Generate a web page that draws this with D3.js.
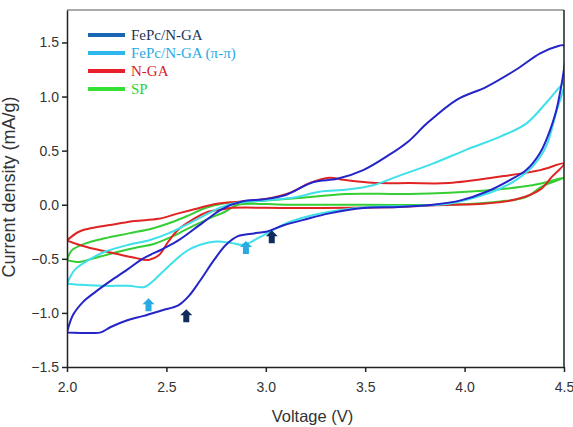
<!DOCTYPE html>
<html>
<head>
<meta charset="utf-8">
<script src="https://cdn.jsdelivr.net/npm/d3@7"></script>
<style>
	body{margin:0;background:#fff;}
	svg{display:block;}
	.tick text{font-family:"Liberation Sans",Arial,sans-serif;font-size:14px;fill:#333;}
</style>
</head>
<body>
<div id="chart"></div>
<script>
// FePc/N-GA loop: anodic sweep then cathodic sweep (V, mA/g)
let fepcUp = [[2.0,-1.18],[2.03,-1.02],[2.08,-0.90],[2.14,-0.81],[2.23,-0.69],[2.31,-0.59],[2.38,-0.50],[2.48,-0.41],[2.56,-0.33],[2.68,-0.17],[2.78,-0.04],[2.88,0.03],[2.99,0.05],[3.10,0.09],[3.24,0.21],[3.36,0.24],[3.49,0.32],[3.62,0.46],[3.72,0.59],[3.81,0.75],[3.96,0.97],[4.11,1.09],[4.26,1.25],[4.38,1.40],[4.46,1.46],[4.5,1.47]]
let fepcDown = [[4.5,1.40],[4.47,0.94],[4.43,0.69],[4.38,0.48],[4.31,0.32],[4.23,0.23],[4.11,0.12],[3.98,0.04],[3.84,0.0],[3.67,-0.02],[3.49,-0.03],[3.32,-0.08],[3.19,-0.14],[3.09,-0.19],[3.0,-0.25],[2.94,-0.265],[2.86,-0.29],[2.80,-0.37],[2.74,-0.51],[2.67,-0.70],[2.61,-0.85],[2.56,-0.93],[2.48,-0.975],[2.38,-1.03],[2.30,-1.07],[2.22,-1.13],[2.17,-1.18],[2.12,-1.185],[2.0,-1.18]]

// FePc/N-GA (pi-pi)
let pipiUp = [[2.0,-0.73],[2.04,-0.60],[2.11,-0.51],[2.19,-0.435],[2.31,-0.37],[2.41,-0.33],[2.51,-0.265],[2.595,-0.19],[2.68,-0.11],[2.78,-0.02],[2.86,0.02],[3.0,0.04],[3.15,0.07],[3.27,0.12],[3.41,0.14],[3.54,0.18],[3.66,0.26],[3.84,0.38],[4.01,0.51],[4.18,0.63],[4.31,0.75],[4.41,0.94],[4.5,1.12]]
let pipiDown = [[4.5,1.12],[4.46,0.85],[4.41,0.54],[4.34,0.35],[4.26,0.23],[4.18,0.15],[4.06,0.07],[3.92,0.01],[3.76,-0.01],[3.52,-0.02],[3.37,-0.05],[3.24,-0.095],[3.12,-0.16],[3.04,-0.23],[2.97,-0.30],[2.92,-0.35],[2.88,-0.37],[2.83,-0.355],[2.75,-0.34],[2.67,-0.37],[2.60,-0.43],[2.51,-0.57],[2.43,-0.71],[2.39,-0.76],[2.31,-0.75],[2.19,-0.75],[2.075,-0.74],[2.0,-0.73]]

// N-GA
let ngaUp = [[2.0,-0.33],[2.06,-0.25],[2.14,-0.21],[2.24,-0.18],[2.34,-0.15],[2.46,-0.13],[2.56,-0.08],[2.645,-0.04],[2.73,0.0],[2.81,0.02],[2.88,0.03],[2.99,0.05],[3.12,0.11],[3.22,0.20],[3.32,0.25],[3.39,0.23],[3.49,0.21],[3.57,0.20],[3.72,0.20],[3.92,0.20],[4.18,0.26],[4.38,0.32],[4.5,0.38]]
let ngaDown = [[4.5,0.37],[4.44,0.26],[4.38,0.14],[4.26,0.05],[4.09,0.01],[3.92,0.0],[3.67,-0.02],[3.15,-0.03],[2.82,-0.03],[2.795,-0.04],[2.71,-0.065],[2.63,-0.14],[2.56,-0.23],[2.51,-0.34],[2.46,-0.47],[2.41,-0.51],[2.34,-0.49],[2.24,-0.45],[2.14,-0.41],[2.06,-0.37],[2.0,-0.33]]

// SP
let spUp = [[2.0,-0.51],[2.025,-0.42],[2.09,-0.36],[2.19,-0.31],[2.31,-0.265],[2.43,-0.22],[2.53,-0.16],[2.61,-0.10],[2.695,-0.03],[2.78,0.01],[2.845,0.02],[3.0,0.04],[3.15,0.06],[3.41,0.10],[3.72,0.10],[4.09,0.13],[4.34,0.18],[4.5,0.25]]
let spDown = [[4.5,0.25],[4.39,0.17],[4.31,0.07],[4.18,0.03],[3.92,0.0],[3.5,0.0],[3.1,0.0],[2.86,0.0],[2.795,-0.065],[2.71,-0.13],[2.63,-0.20],[2.545,-0.28],[2.44,-0.36],[2.34,-0.40],[2.225,-0.45],[2.125,-0.50],[2.06,-0.53],[2.0,-0.51]]

let seriesNames = ["FePc/N-GA","FePc/N-GA (\u03c0-\u03c0)","N-GA","SP"]
let curveColours = ["#2424c8","#3ee0ea","#e02424","#35cf35"]
let legendLineColours = ["#1b66b2","#2fb8ee","#e8202a","#33e033"]
let legendTextColours = ["#1f3558","#2aaae2","#d8202a","#33d133"]
let loops = [fepcUp.concat(fepcDown.slice(1)), pipiUp.concat(pipiDown.slice(1)), ngaUp.concat(ngaDown.slice(1)), spUp.concat(spDown.slice(1))]

// peak markers: [V, mA/g, colour]
let arrows = [[2.41,-0.93,"#2aaae2"],[2.60,-1.03,"#0f2c5c"],[2.90,-0.40,"#2aaae2"],[3.03,-0.30,"#0f2c5c"]]

let xTicks = [2.0,2.5,3.0,3.5,4.0,4.5]
let yTicks = [-1.5,-1.0,-0.5,0.0,0.5,1.0,1.5]

let fullWidth = 573, fullHeight = 427
let margin = {top:10, right:9, bottom:60, left:67}
let width = fullWidth - margin.left - margin.right
let height = fullHeight - margin.top - margin.bottom

let svg = d3.select("#chart").append("svg")
	.attr("width",fullWidth)
	.attr("height",fullHeight)

let g = svg.append("g").attr("transform",`translate(${margin.left},${margin.top})`)

let x = d3.scaleLinear().domain([2.0,4.5]).range([0,width])
let y = d3.scaleLinear().domain([-1.5,1.8]).range([height,0])

let line = d3.line().x(d=>x(d[0])).y(d=>y(d[1])).curve(d3.curveCatmullRom.alpha(0.5))

g.append("defs").append("clipPath").attr("id","clip")
	.append("rect").attr("width",width).attr("height",height)

// draw order: SP, N-GA, pi-pi, FePc on top
let order = [3,2,1,0]
g.append("g").attr("clip-path","url(#clip)")
	.selectAll("path")
	.data(order)
	.enter().append("path")
	.attr("d",i=>line(loops[i]))
	.attr("fill","none")
	.attr("stroke",i=>curveColours[i])
	.attr("stroke-width",2)
	.attr("stroke-linejoin","round")

// block arrows pointing up
let arrowPath = "M0,-7 L6,-1 L3,-1 L3,6 L-3,6 L-3,-1 L-6,-1 Z"
g.selectAll(".arrow")
	.data(arrows)
	.enter().append("path")
	.attr("class","arrow")
	.attr("d",arrowPath)
	.attr("transform",d=>`translate(${x(d[0])},${y(d[1])})`)
	.attr("fill",d=>d[2])

// frame
g.append("line").attr("x1",0).attr("x2",width).attr("y1",0).attr("y2",0).attr("stroke","#555").attr("stroke-width",1.2)
g.append("line").attr("x1",width).attr("x2",width).attr("y1",0).attr("y2",height).attr("stroke","#222").attr("stroke-width",1.5)

let xAxis = d3.axisBottom(x).tickValues(xTicks).tickFormat(d3.format(".1f")).tickSizeInner(5).tickSizeOuter(0).tickPadding(10)
let yAxis = d3.axisLeft(y).tickValues(yTicks).tickFormat(d3.format(".1f")).tickSizeInner(5).tickSizeOuter(0).tickPadding(3)

g.append("g").attr("transform",`translate(0,${height})`).call(xAxis)
	.call(a=>a.selectAll("line,path").attr("stroke","#222").attr("stroke-width",1.5))
g.append("g").call(yAxis)
	.call(a=>a.selectAll("line,path").attr("stroke","#222").attr("stroke-width",1.5))

g.append("text")
	.attr("x",width/2 - 3).attr("y",height+55)
	.attr("text-anchor","middle")
	.attr("font-family","Liberation Sans, Arial, sans-serif")
	.attr("font-size",16.5).attr("fill","#333")
	.text("Voltage (V)")

svg.append("text")
	.attr("transform",`translate(15,187) rotate(-90)`)
	.attr("text-anchor","middle")
	.attr("font-family","Liberation Sans, Arial, sans-serif")
	.attr("font-size",18).attr("fill","#333")
	.text("Current density (mA/g)")

// legend
let legend = svg.selectAll(".legend")
	.data(seriesNames)
	.enter().append("g")
	.attr("class","legend")
	.attr("transform",(d,i)=>`translate(88,${35+i*18})`)

legend.append("line")
	.attr("x1",0).attr("x2",37).attr("y1",0).attr("y2",0)
	.attr("stroke",(d,i)=>legendLineColours[i])
	.attr("stroke-width",4)

legend.append("text")
	.attr("x",43).attr("y",5)
	.attr("font-family","Liberation Serif, Times New Roman, serif")
	.attr("font-size",15)
	.attr("fill",(d,i)=>legendTextColours[i])
	.text(d=>d)
</script>
</body>
</html>
